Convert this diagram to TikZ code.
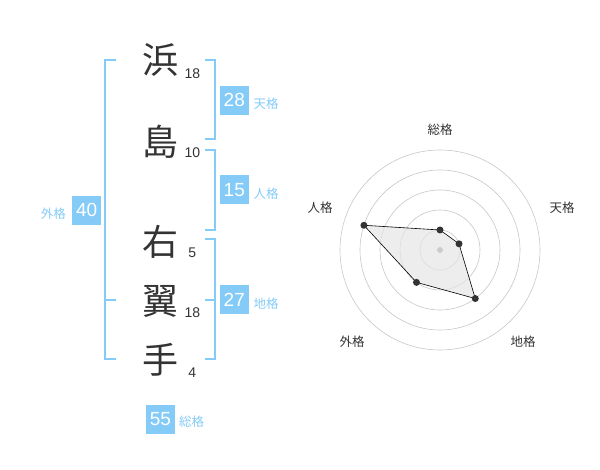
\documentclass[tikz,border=0pt]{standalone}
\usepackage{fontspec}
\setmainfont{Liberation Sans}
\newfontfamily\jpfont{Noto Sans CJK JP}
\definecolor{kakublue}{HTML}{84CBF8}
\definecolor{kanjigray}{HTML}{333333}
\begin{document}
\begin{tikzpicture}[x=1pt, y=-1pt,
  kanji/.style={font=\jpfont\fontsize{36}{36}\selectfont, text=kanjigray, inner sep=0pt},
  strokes/.style={font=\fontsize{14}{14}\selectfont, text=kanjigray, inner sep=0pt},
  kakubox/.style={fill=kakublue, text=white, minimum size=29pt, inner sep=0pt, font=\fontsize{19}{19}\selectfont},
  kakuname/.style={font=\jpfont\fontsize{12.5}{12.5}\selectfont, text=kakublue, inner sep=0pt},
  bracket/.style={draw=kakublue, line width=2pt},
  axisname/.style={font=\jpfont\fontsize{12.5}{12.5}\selectfont, text=kanjigray, inner sep=0pt},
  ring/.style={draw=black!22, line width=0.6pt},
  dot/.style={circle, fill=kanjigray, inner sep=0pt, minimum size=7pt}]
\useasboundingbox (0,0) rectangle (600,470);
% name
\node[kanji] (hama) at (160,60) {浜};
\node[kanji] (shima) at (160,141.7) {島};
\node[kanji] (u) at (160,241.7) {右};
\node[kanji] (yoku) at (160,301.7) {翼};
\node[kanji] (te) at (160,360) {手};
\node[strokes] (hamanum) at (192.3,73.3) {18};
\node[strokes] (shimanum) at (192.3,152.7) {10};
\node[strokes] (unum) at (192.3,252.3) {5};
\node[strokes] (yokunum) at (192.3,312.7) {18};
\node[strokes] (tenum) at (192.3,372.7) {4};
% brackets
\draw[bracket] (205,60) -| (215,139.5) -- (205,139.5);
\draw[bracket] (205,150) -| (215,230) -- (205,230);
\draw[bracket] (205,239.5) -| (215,359.5) -- (205,359.5);
\draw[bracket] (205,300) -- (215,300);
\draw[bracket] (116,60) -| (105,359.5) -- (116,359.5);
\draw[bracket] (105,300) -- (116,300);
% kaku
\node[kakubox] (tenkaku) at (234.3,100.3) {28};
\node[kakuname] (tenname) at (266,104) {天格};
\node[kakubox] (jinkaku) at (234.3,190) {15};
\node[kakuname] (jinname) at (266,194) {人格};
\node[kakubox] (chikaku) at (234.3,300) {27};
\node[kakuname] (chiname) at (266,304) {地格};
\node[kakubox] (gaikaku) at (86.7,210.3) {40};
\node[kakuname] (gainame) at (53.3,213.3) {外格};
\node[kakubox] (soukaku) at (160.5,419) {55};
\node[kakuname] (souname) at (191.7,422) {総格};
% radar
\begin{scope}[shift={(440,250)}]
\foreach \r in {20,40,60,80,100}
  \draw[ring] (0,0) circle (\r);
\coordinate (sou) at (-90:20);
\coordinate (ten) at (-18:20);
\coordinate (chi) at (54:60);
\coordinate (gai) at (126:40);
\coordinate (jin) at (198:80);
\fill[black!10, opacity=0.7] (sou) -- (ten) -- (chi) -- (gai) -- (jin) -- cycle;
\draw[black, line width=0.6pt] (sou) -- (ten) -- (chi) -- (gai) -- (jin) -- cycle;
\node[circle, fill=black!20, inner sep=0pt, minimum size=6pt] (mid) at (0,0) {};
\foreach \p in {sou,ten,chi,gai,jin}
  \node[dot] (\p dot) at (\p) {};
\end{scope}
\node[axisname] (souaxis) at (440,130) {総格};
\node[axisname] (tenaxis) at (562,208) {天格};
\node[axisname] (chiaxis) at (523,342) {地格};
\node[axisname] (gaiaxis) at (352,342) {外格};
\node[axisname] (jinaxis) at (320,208) {人格};
\end{tikzpicture}
\end{document}
